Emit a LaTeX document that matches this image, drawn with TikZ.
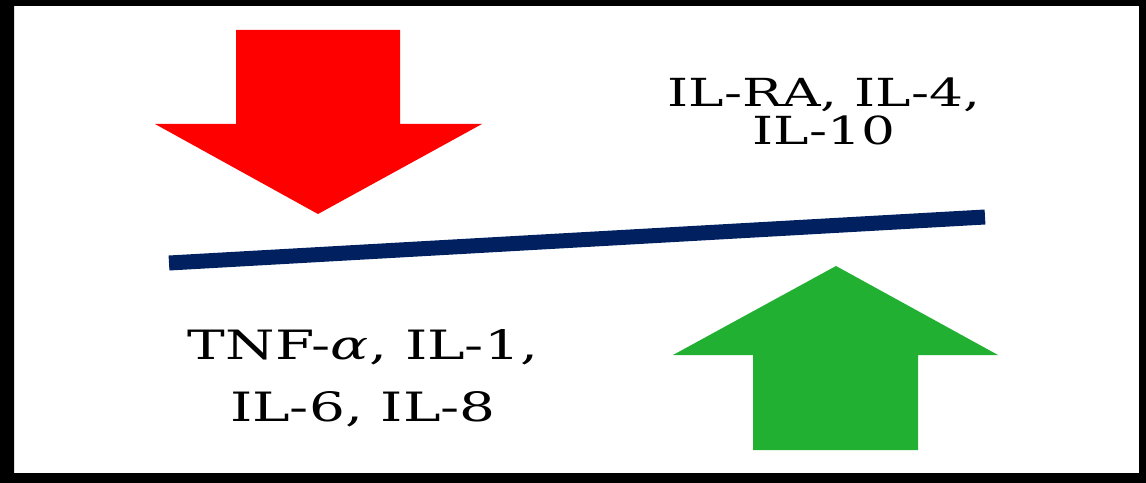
\documentclass[tikz,border=0pt]{standalone}
\usepackage{fontspec}
\setmainfont{DejaVu Serif}
\definecolor{alarmred}{RGB}{255,0,0}
\definecolor{healgreen}{RGB}{34,176,51}
\definecolor{scalenavy}{RGB}{0,32,96}

\begin{document}
\begin{tikzpicture}[
  x=0.02cm, y=-0.02cm,
  frame/.style={fill=black, even odd rule},
  downarrow/.style={fill=alarmred},
  uparrow/.style={fill=healgreen},
  beam/.style={draw=scalenavy, line width=0.3cm},
  cyto/.style={align=center, inner sep=0pt, xscale=1.38, anchor=base}
]
\useasboundingbox (0,0) rectangle (1146,483);
% Frame
\path[frame] (0,0) rectangle (1146,483) (14,6) rectangle (1139,473);

% Arrows
\path[downarrow] (236,30) -- (400,30) -- (400,124) -- (482,124) -- (318,214) -- (155,124) -- (236,124) -- cycle;
\path[uparrow] (836,266) -- (998,355) -- (918,355) -- (918,450) -- (753,450) -- (753,355) -- (673,355) -- cycle;

% Tilted beam
\coordinate (beamL) at (169,263);
\coordinate (beamR) at (985,217);
\draw[beam] (beamL) -- (beamR);

% Labels (base = last line)
\node[cyto, font={\fontsize{22}{22}\selectfont}] (anti) at (824,145) {IL-RA, IL-4,\\IL-10};
\node[cyto, xscale=1.014, font={\fontsize{23}{35}\selectfont}] (pro) at (363,421) {TNF-{\itshape α}, IL-1,\\IL-6, IL-8};
\end{tikzpicture}
\end{document}
